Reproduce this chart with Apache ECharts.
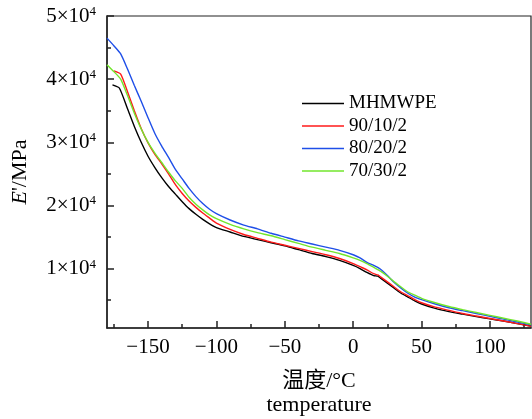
<!DOCTYPE html>
<html><head><meta charset="utf-8">
<script src="https://cdn.jsdelivr.net/npm/echarts@6/dist/echarts.min.js"></script>
<style>html,body{margin:0;padding:0;background:#fff}#c{width:532px;height:419px}</style>
</head><body><div id="c"></div>
<script>
const seriesNames = ['MHMWPE', '90/10/2', '80/20/2', '70/30/2'];

const tempBlack = [-176,-171,-165,-160,-155,-150,-145,-140,-135,-130,-125,-120,-115,-110,-105,-100,-90,-80,-70,-60,-50,-40,-30,-20,-10,0,5,10,15,18,20,25,30,35,40,45,50,60,70,80,90,100,110,120,130];
const modBlack = [39100,38600,35300,32500,30000,27800,26000,24400,23000,21800,20600,19500,18600,17800,17100,16500,15800,15100,14600,14100,13600,13000,12400,11900,11300,10500,10000,9400,8900,8800,8500,7700,6900,6100,5500,4900,4400,3700,3200,2800,2400,2050,1700,1300,900];

const tempRed = [-175,-170,-165,-160,-155,-150,-145,-140,-135,-130,-125,-120,-115,-110,-105,-100,-90,-80,-70,-60,-50,-40,-30,-20,-10,0,5,10,15,18,20,25,30,35,40,45,50,60,70,80,90,100,110,120,130];
const modRed = [41300,40800,38000,35000,32200,29900,28100,26600,25000,23300,21900,20700,19700,18800,18000,17200,16200,15400,14800,14200,13700,13200,12700,12200,11600,10800,10300,9800,9200,9000,8700,7900,7100,6300,5700,5100,4600,3900,3400,2900,2500,2100,1700,1300,850];

const tempBlue = [-180,-175,-170,-165,-160,-155,-150,-145,-140,-135,-130,-125,-120,-115,-110,-105,-100,-90,-80,-70,-60,-50,-40,-30,-20,-10,0,5,10,15,20,25,30,35,40,45,50,60,70,80,90,100,110,120,130];
const modBlue = [46500,45300,44000,41600,39000,36500,33900,31400,29400,27600,25700,24200,22700,21400,20300,19400,18700,17700,16900,16300,15600,15000,14400,13900,13400,12900,12200,11700,11000,10500,9900,8900,7800,6900,6100,5500,5100,4400,3800,3350,2900,2450,2000,1550,1100];

const tempGreen = [-180,-175,-170,-165,-160,-155,-150,-145,-140,-135,-130,-125,-120,-115,-110,-105,-100,-90,-80,-70,-60,-50,-40,-30,-20,-10,0,5,10,15,20,25,30,35,40,45,50,60,70,80,90,100,110,120,130];
const modGreen = [42300,41200,40000,37400,34600,32100,30000,28300,26800,25300,23900,22700,21300,20200,19300,18500,17900,17000,16300,15700,15200,14600,14000,13400,12900,12400,11700,11300,10800,10200,9600,8800,7900,7100,6300,5800,5300,4600,4000,3500,3050,2600,2150,1700,1200];

const xLabelValues = [-150,-100,-50,0,50,100];
const xMinorTicks = [-175,-125,-75,-25,25,75,125];
const yLabelValues = [10000,20000,30000,40000,50000];
const yMinorTicks = [5000,15000,25000,35000,45000];

const FONT = "'Liberation Serif','Times New Roman','Noto Sans CJK SC',serif";
const AX = '#222';
const colors = ['#000000','#ff1a1a','#1f4fe8','#72e62c'];
const zip = (a,b) => a.map((v,i)=>[v,b[i]]);
const data = [zip(tempBlack,modBlack), zip(tempRed,modRed), zip(tempBlue,modBlue), zip(tempGreen,modGreen)];

const chart = echarts.init(document.getElementById('c'), null, {renderer:'canvas'});
const baseX = {type:'value', min:-180, max:130, position:'bottom', splitLine:{show:false}};
const baseY = {type:'value', min:600, max:50000, position:'left', splitLine:{show:false}};
chart.setOption({
  animation:false,
  backgroundColor:'#fff',
  grid:{left:107, right:1, top:16, bottom:91, containLabel:false, outerBoundsMode:'none',
        show:true, borderColor:AX, borderWidth:1.2, backgroundColor:'transparent'},
  legend:{
    orient:'vertical', left:302, top:94, padding:0, itemGap:3.5,
    icon:'rect', itemWidth:42, itemHeight:1.6,
    textStyle:{fontFamily:FONT, fontSize:19, color:'#000', padding:[0,0,0,0], lineHeight:19},
    data:seriesNames.map((n,i)=>({name:n, itemStyle:{color:colors[i]}}))
  },
  xAxis:[
    Object.assign({}, baseX, {
      axisLine:{show:true, onZero:false, lineStyle:{color:AX, width:1.5}},
      axisTick:{show:true, inside:true, length:7, customValues:xLabelValues, lineStyle:{color:AX, width:1.5}},
      axisLabel:{show:true, customValues:xLabelValues, margin:9, color:'#000', fontFamily:FONT, fontSize:21,
        formatter:v => (v<0 ? '\u2212'+(-v) : ''+v)},
      name:'温度/°C\ntemperature', nameLocation:'middle', nameGap:41,
      nameTextStyle:{fontFamily:FONT, fontSize:22, color:'#000', lineHeight:24}
    }),
    Object.assign({}, baseX, {
      axisLine:{show:false, onZero:false},
      axisTick:{show:true, inside:true, length:4, customValues:xMinorTicks, lineStyle:{color:AX, width:1.5}},
      axisLabel:{show:false}
    })
  ],
  yAxis:[
    Object.assign({}, baseY, {
      axisLine:{show:true, onZero:false, lineStyle:{color:AX, width:1.5}},
      axisTick:{show:true, inside:true, length:7, customValues:yLabelValues, lineStyle:{color:AX, width:1.5}},
      axisLabel:{show:true, customValues:yLabelValues, margin:11, color:'#000', fontFamily:FONT,
        formatter:v => '{a|'+(v/10000)+'×10}{s|4}',
        rich:{a:{fontFamily:FONT, fontSize:21, color:'#000', lineHeight:22},
              s:{fontFamily:FONT, fontSize:13, color:'#000', verticalAlign:'top', lineHeight:22, padding:[0,0,0,0]}}},
      name:"{i|E}{n|'/MPa}", nameLocation:'middle', nameGap:76,
      nameTextStyle:{fontFamily:FONT, fontSize:22, color:'#000',
        rich:{i:{fontFamily:FONT, fontSize:22, fontStyle:'italic', color:'#000'},
              n:{fontFamily:FONT, fontSize:22, color:'#000'}}}
    }),
    Object.assign({}, baseY, {
      axisLine:{show:false, onZero:false},
      axisTick:{show:true, inside:true, length:4, customValues:yMinorTicks, lineStyle:{color:AX, width:1.5}},
      axisLabel:{show:false}
    })
  ],
  series: seriesNames.map((n,i)=>({
    name:n, type:'line', data:data[i], xAxisIndex:0, yAxisIndex:0,
    symbol:'none', smooth:0.2, clip:true,
    lineStyle:{color:colors[i], width:1.4}, itemStyle:{color:colors[i]}
  }))
});
</script></body></html>
